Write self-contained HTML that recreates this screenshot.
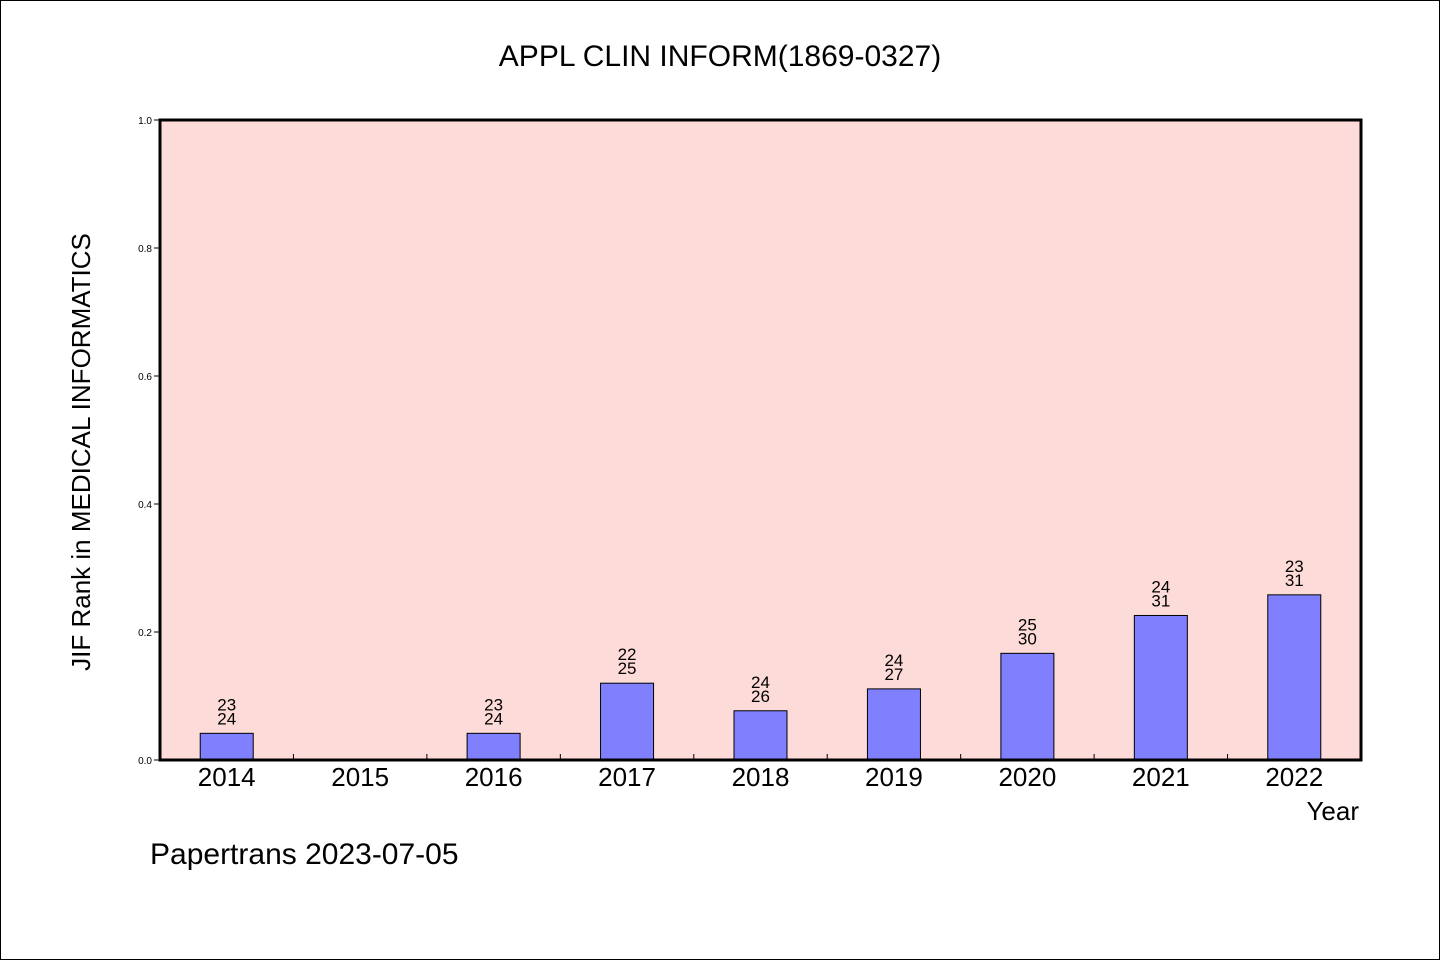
<!DOCTYPE html>
<html><head><meta charset="utf-8"><style>
html,body{margin:0;padding:0;background:#fff}
svg{display:block}
text{font-family:"WenQuanYi Zen Hei","Liberation Sans",sans-serif;fill:#000}
</style></head><body>
<svg id="chart" width="1440" height="960">
<rect x="0.5" y="0.5" width="1439" height="959" fill="#fff" stroke="#000"/>
<text x="720" y="66" font-size="30" text-anchor="middle">APPL CLIN INFORM(1869-0327)</text>
<rect x="160" y="120" width="1201" height="640" fill="#fddbd8"/>
<g id="bars"></g>
<g id="ticks"></g>
<rect x="160" y="120" width="1201" height="640" fill="none" stroke="#000" stroke-width="3"/>
<text transform="translate(90,452) rotate(-90)" font-size="26" text-anchor="middle">JIF Rank in MEDICAL INFORMATICS</text>
<text x="1359" y="820" font-size="26" text-anchor="end">Year</text>
<text x="150" y="864" font-size="30">Papertrans 2023-07-05</text>
</svg>
<script>
const years=["2014","2015","2016","2017","2018","2019","2020","2021","2022"];
const ranks=[23,null,23,22,24,24,25,24,23];
const totals=[24,null,24,25,26,27,30,31,31];
const yTicks=[0,0.2,0.4,0.6,0.8,1.0];
const NS="http://www.w3.org/2000/svg";
const x0=160,x1=1361,yTop=120,yBot=760;
const slot=(x1-x0)/years.length;
const xc=i=>x0+slot*(i+0.5);
const ys=v=>yBot-v*(yBot-yTop);
function mk(tag,attrs,parent,txt){const e=document.createElementNS(NS,tag);for(const k in attrs)e.setAttribute(k,attrs[k]);if(txt!=null)e.textContent=txt;parent.appendChild(e);return e;}
const bars=document.getElementById('bars'),ticks=document.getElementById('ticks');
years.forEach((y,i)=>{
  const lab=mk('text',{x:xc(i),y:786,'font-size':26,'text-anchor':'middle'},ticks,y);
  
  
  if(i>0){const t=mk('line',{x1:x0+slot*i,x2:x0+slot*i,y1:yBot,y2:yBot-6,stroke:'#000'},ticks);
    
    }
  if(ranks[i]==null)return;
  const v=(totals[i]-ranks[i])/totals[i];
  const r=mk('rect',{x:xc(i)-26.5,y:ys(v),width:53,height:yBot-ys(v),fill:'#8080ff',stroke:'#000','stroke-width':1},bars);
  
  
  const t1=mk('text',{x:xc(i),y:ys(v)-23,'font-size':17,'text-anchor':'middle'},bars,String(ranks[i]));
  
  
  const t2=mk('text',{x:xc(i),y:ys(v)-9,'font-size':17,'text-anchor':'middle'},bars,String(totals[i]));
  
  
});
yTicks.forEach(v=>{
  const l=mk('line',{x1:x0-6,x2:x0,y1:ys(v),y2:ys(v),stroke:'#000'},ticks);
  
  
  const t=mk('text',{x:x0-8,y:ys(v)+4,'font-size':10,'text-anchor':'end'},ticks,v.toFixed(1));
  
  
});
</script>
</body></html>
